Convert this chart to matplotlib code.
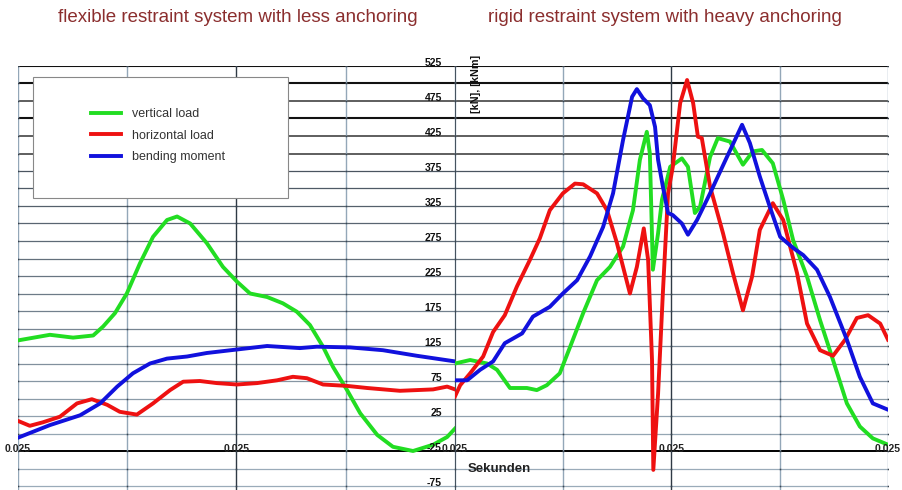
import matplotlib
matplotlib.use("Agg")
import matplotlib.pyplot as plt
from matplotlib.patches import Rectangle
import matplotlib.transforms as mtransforms
import matplotlib.colors as mcolors
import numpy as np

# ---------------- data (time in % of panel width, values in kN / kNm) -------------
titles = ["flexible restraint system with less anchoring",
          "rigid restraint system with heavy anchoring"]
series_names = ["vertical load", "horizontal load", "bending moment"]
series_colors = ["#22dd22", "#ee1111", "#1111dd"]

# left panel: flexible restraint system
flex_vert_t = [0, 7.3, 12.6, 17.2, 19.5, 22.2, 24.9, 27.9, 30.9, 34.1, 36.4, 39.4, 43.2,
               46.9, 50.1, 53.1, 57.0, 60.6, 63.8, 66.8, 69.8, 72.1, 75.3, 78.3, 82.2,
               85.8, 90.4, 95.0, 98.2, 100]
flex_vert_v = [133, 141, 137, 140, 153, 172, 200, 243, 281, 305, 310, 300, 272,
               238, 217, 200, 195, 186, 174, 155, 124, 95, 62, 29, -2,
               -19, -25, -16, -5, 7]

flex_horiz_t = [0, 2.7, 5.7, 9.6, 13.5, 16.9, 20.4, 23.3, 27.2, 30.9, 34.8, 37.8, 41.6,
                45.5, 50.1, 54.7, 59.3, 62.9, 66.1, 69.8, 75.3, 79.9, 87.4, 95.0, 98.2, 100]
flex_horiz_v = [18, 11, 16, 24, 43, 49, 41, 31, 27, 43, 62, 74, 75,
                72, 70, 72, 76, 81, 79, 70, 68, 65, 61, 63, 67, 63]

flex_bend_t = [0, 7.3, 14.2, 18.8, 22.7, 26.3, 30.2, 34.1, 38.7, 43.2, 50.1, 57.0,
               64.5, 68.4, 76.0, 83.5, 91.3, 100]
flex_bend_v = [-6, 12, 26, 43, 67, 86, 100, 107, 110, 115, 120, 125,
               122, 124, 123, 119, 111, 103]

# right panel: rigid restraint system
rigid_vert_t = [0, 3.5, 7.4, 9.7, 12.7, 16.6, 18.9, 21.2, 24.2, 26.6, 29.6, 32.8, 35.8,
                38.8, 41.1, 42.7, 44.3, 45.0, 45.7, 46.9, 47.8, 49.7, 52.4, 53.8, 55.4,
                56.6, 58.9, 60.7, 63.5, 66.5, 68.8, 70.9, 73.4, 75.8, 78.1, 81.3, 84.3,
                87.3, 90.5, 93.5, 96.5, 100]
rigid_vert_v = [100, 105, 100, 91, 65, 65, 62, 69, 86, 124, 172, 219, 238,
                267, 319, 391, 431, 400, 234, 286, 334, 381, 393, 381, 315,
                324, 395, 422, 417, 384, 403, 405, 386, 334, 276, 224, 162,
                105, 43, 10, -7, -16]

rigid_horiz_t = [0, 1.2, 3.5, 6.5, 8.8, 11.5, 14.3, 17.3, 19.6, 21.9, 24.9, 27.7, 29.6,
                 32.8, 35.1, 37.4, 40.4, 42.0, 43.6, 44.6, 45.5, 45.8, 46.9, 48.0, 49.2,
                 50.3, 52.0, 53.6, 55.0, 56.1, 57.0, 58.9, 61.9, 64.2, 66.5, 68.6, 70.4,
                 73.4, 75.8, 79.0, 81.3, 84.3, 87.3, 90.1, 92.8, 95.4, 98.2, 100]
rigid_horiz_v = [53, 69, 86, 110, 145, 169, 210, 248, 279, 319, 343, 357, 356,
                 343, 319, 272, 200, 238, 293, 248, 105, -52, 57, 200, 343,
                 381, 472, 505, 472, 424, 422, 353, 286, 229, 176, 224, 291,
                 329, 305, 229, 157, 119, 111, 134, 165, 169, 157, 134]

rigid_bend_t = [0, 2.8, 5.8, 8.8, 11.5, 15.5, 18.0, 21.9, 24.9, 28.2, 31.2, 34.2, 36.5,
                38.8, 40.9, 42.0, 43.4, 45.0, 46.2, 46.9, 48.0, 49.2, 50.3, 52.4, 53.8,
                55.9, 58.9, 62.8, 66.3, 68.1, 70.4, 72.7, 75.1, 78.1, 80.4, 83.6, 86.6,
                90.5, 93.5, 96.5, 100]
rigid_bend_v = [76, 76, 91, 103, 129, 143, 167, 181, 200, 219, 253, 295, 343,
                419, 481, 492, 479, 469, 438, 391, 353, 315, 312, 300, 284,
                305, 343, 395, 441, 415, 367, 324, 281, 265, 255, 234, 195,
                134, 81, 43, 34]

y_tick_values = [525, 475, 425, 375, 325, 275, 225, 175, 125, 75, 25, -25, -75]
x_tick_label = "0.025"
y_axis_title = "[kN], [kNm]"
x_axis_title = "Sekunden"

# ---------------- figure ----------------
W, H = 902, 490
fig = plt.figure(figsize=(W / 100, H / 100), dpi=100)
plt.rcParams['font.family'] = ['Liberation Sans', 'DejaVu Sans']

YMIN, YMAX = -80, 525
top_px, bot_px = 66, 489.5


def px_rect(x0, x1):
    return [x0 / W, 1 - bot_px / H, (x1 - x0) / W, (bot_px - top_px) / H]


ax1 = fig.add_axes(px_rect(18, 455))
ax2 = fig.add_axes(px_rect(455, 888), sharey=ax1)

dark_grid = np.array(mcolors.to_rgb("#4a5560"))
light_grid = np.array(mcolors.to_rgb("#9aabb9"))

grid_vals = list(range(525, -80, -25))
for ax in (ax1, ax2):
    ax.set_xlim(0, 100)
    ax.set_ylim(YMIN, YMAX)
    for s in ax.spines.values():
        s.set_visible(False)
    ax.tick_params(length=0, labelbottom=False, labelleft=False)
    for v in grid_vals:
        if v in (525, 500, 450):
            c, lw = "#111111", 1.5
        elif v >= 400:
            c, lw = "#333333", 1.1
        elif v == -25:
            c, lw = "#000000", 1.4
        else:
            f = np.clip((375 - v) / 400, 0, 1)
            c, lw = tuple(dark_grid * (1 - f) + light_grid * f), 0.9
        ax.axhline(v, color=c, lw=lw, zorder=1)
    for xv in (0, 25, 50, 75, 100):
        c = "#2f3a45" if xv == 50 else "#93a7b8"
        ax.axvline(xv, color=c, lw=1.0, zorder=1)
        ax.plot([xv] * len(grid_vals), grid_vals, ls="none", marker="s",
                ms=1.1, mew=0, color="#3a4550", zorder=1.5)

ax2.axvline(0, color="#2f3a45", lw=1.1, zorder=1)

lw_curve = 2.8
l1, = ax1.plot(flex_vert_t, flex_vert_v, color=series_colors[0], lw=lw_curve, zorder=3)
l2, = ax1.plot(flex_horiz_t, flex_horiz_v, color=series_colors[1], lw=lw_curve, zorder=3)
l3, = ax1.plot(flex_bend_t, flex_bend_v, color=series_colors[2], lw=lw_curve, zorder=3)
ax2.plot(rigid_vert_t, rigid_vert_v, color=series_colors[0], lw=lw_curve, zorder=3)
ax2.plot(rigid_horiz_t, rigid_horiz_v, color=series_colors[1], lw=lw_curve, zorder=3)
ax2.plot(rigid_bend_t, rigid_bend_v, color=series_colors[2], lw=lw_curve, zorder=3)

# y tick labels (drawn just left of the middle divider)
ytrans = mtransforms.blended_transform_factory(ax2.transAxes, ax2.transData)
off = mtransforms.ScaledTranslation(-13 / 100, 3 / 100, fig.dpi_scale_trans)
for v in y_tick_values:
    ax2.text(0, v, str(v), transform=ytrans + off, ha="right", va="center",
             fontsize=7.5, fontweight="bold", color="#111111", zorder=5)

# x tick labels on the -25 line
xoff = mtransforms.ScaledTranslation(0, 2 / 100, fig.dpi_scale_trans)
for ax, xs in ((ax1, (0, 50)), (ax2, (0, 50, 100))):
    for xv in xs:
        ax.text(xv, -25, x_tick_label, transform=ax.transData + xoff, ha="center",
                va="center", fontsize=7.5, fontweight="bold", color="#222222",
                zorder=5, clip_on=False)

fig.text(476 / W, 1 - 84 / H, y_axis_title, rotation=90,
         ha="center", va="center", fontsize=7.8, fontweight="bold", color="#111111",
         zorder=6)
ax2.text(0.03, -50, x_axis_title, transform=mtransforms.blended_transform_factory(
    ax2.transAxes, ax2.transData), ha="left", va="center", fontsize=9.5,
    fontweight="bold", color="#222222", zorder=5)

# titles
title_color = "#8b2e2e"
fig.text(238 / W, 1 - 17 / H, titles[0], ha="center", va="center",
         fontsize=13.5, color=title_color)
fig.text(665 / W, 1 - 17 / H, titles[1], ha="center", va="center",
         fontsize=13.5, color=title_color)

# legend box
fig.patches.append(Rectangle((33 / W, 1 - 198 / H), (288 - 33) / W, (198 - 77) / H,
                             transform=fig.transFigure, facecolor="white",
                             edgecolor="#888888", lw=0.8, zorder=4))
leg = fig.legend([l1, l2, l3], series_names, loc="upper left",
                 bbox_to_anchor=(80 / W, 1 - 97 / H), frameon=False,
                 fontsize=9, handlelength=2.4, handletextpad=0.9,
                 labelspacing=0.75)
for t in leg.get_texts():
    t.set_color("#333333")
leg.set_zorder(6)

fig.savefig("out.png", dpi=100)
